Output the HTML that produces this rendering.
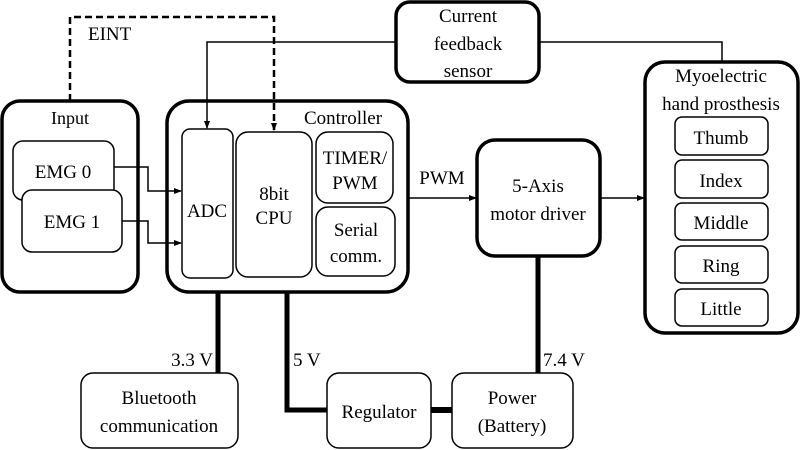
<!DOCTYPE html>
<html><head><style>body{margin:0;background:#fff}svg{display:block}</style></head><body>
<svg width="800" height="450" viewBox="0 0 800 450" xmlns="http://www.w3.org/2000/svg" font-family="'Liberation Serif', 'Times New Roman', Times, 'DejaVu Serif', serif">
<defs><marker id="a" markerWidth="8" markerHeight="8" refX="7" refY="4" orient="auto" markerUnits="userSpaceOnUse"><path d="M0,1 L8,4 L0,7z" fill="#000"/></marker></defs>
<g fill="none" stroke="#000">
<path d="M218 293V373" stroke-width="5"/>
<path d="M287 293V410H327" stroke-width="5"/>
<path d="M431 410H452" stroke-width="6"/>
<path d="M538 256V373" stroke-width="5"/>
<rect x="2" y="101" width="136" height="191" rx="18" stroke-width="3.5"/>
<rect x="167" y="101" width="241" height="191" rx="22" stroke-width="3.5"/>
<rect x="396" y="2" width="143" height="80" rx="14" stroke-width="3.5"/>
<rect x="645" y="62" width="153" height="271" rx="20" stroke-width="3.5"/>
<rect x="477" y="140" width="123" height="116" rx="18" stroke-width="3.5"/>
<g stroke-width="1.5">
<rect x="13" y="141" width="101" height="59" rx="10"/>
<rect x="22" y="190" width="100" height="62" rx="10" fill="#fff"/>
<rect x="182" y="129" width="51" height="149" rx="8"/>
<rect x="236" y="132" width="76" height="145" rx="12"/>
<rect x="316" y="132" width="77" height="71" rx="12"/>
<rect x="316" y="207" width="79" height="69" rx="12"/>
<rect x="675" y="117" width="93" height="38" rx="7"/>
<rect x="675" y="160" width="93" height="38" rx="7"/>
<rect x="675" y="203" width="93" height="37" rx="7"/>
<rect x="675" y="246" width="93" height="37" rx="7"/>
<rect x="675" y="289" width="93" height="37" rx="7"/>
<rect x="81" y="373" width="157" height="75" rx="12"/>
<rect x="327" y="373" width="104" height="75" rx="12"/>
<rect x="452" y="373" width="121" height="75" rx="12"/>
</g>
<g stroke-width="1.5">
<path d="M114 167H148V191H181" marker-end="url(#a)"/>
<path d="M122 221H148V243H181" marker-end="url(#a)"/>
<path d="M396 42H207V128" marker-end="url(#a)"/>
<path d="M539 42H722V62"/>
<path d="M408 198H476" marker-end="url(#a)"/>
<path d="M600 198H644" marker-end="url(#a)"/>
</g>
<path d="M70 101V17H274V130" stroke-width="2.5" stroke-dasharray="7,4" marker-end="url(#a)"/>
</g>
<g font-size="19" text-anchor="middle" fill="#000" style="font-family:'Liberation Serif','Times New Roman',Times,'DejaVu Serif',serif">
<text x="88" y="40" text-anchor="start">EINT</text>
<text x="70" y="124" font-size="18">Input</text>
<text x="343" y="124">Controller</text>
<text x="63" y="178">EMG 0</text>
<text x="72" y="228">EMG 1</text>
<text x="207" y="217">ADC</text>
<text x="274" y="200">8bit</text>
<text x="274" y="224">CPU</text>
<text x="355" y="164">TIMER/</text>
<text x="355" y="189">PWM</text>
<text x="356" y="236">Serial</text>
<text x="356" y="262">comm.</text>
<text x="468" y="22">Current</text>
<text x="468" y="50">feedback</text>
<text x="468" y="77">sensor</text>
<text x="721" y="82">Myoelectric</text>
<text x="721" y="110">hand prosthesis</text>
<text x="721" y="144">Thumb</text>
<text x="721" y="187">Index</text>
<text x="721" y="229">Middle</text>
<text x="721" y="272">Ring</text>
<text x="721" y="315">Little</text>
<text x="442" y="184">PWM</text>
<text x="538" y="192">5-Axis</text>
<text x="538" y="220">motor driver</text>
<text x="213" y="366" text-anchor="end">3.3 V</text>
<text x="293" y="366" text-anchor="start">5 V</text>
<text x="543" y="366" text-anchor="start">7.4 V</text>
<text x="159" y="404">Bluetooth</text>
<text x="159" y="432">communication</text>
<text x="379" y="418">Regulator</text>
<text x="512" y="404">Power</text>
<text x="512" y="432">(Battery)</text>
</g>
</svg>
</body></html>
